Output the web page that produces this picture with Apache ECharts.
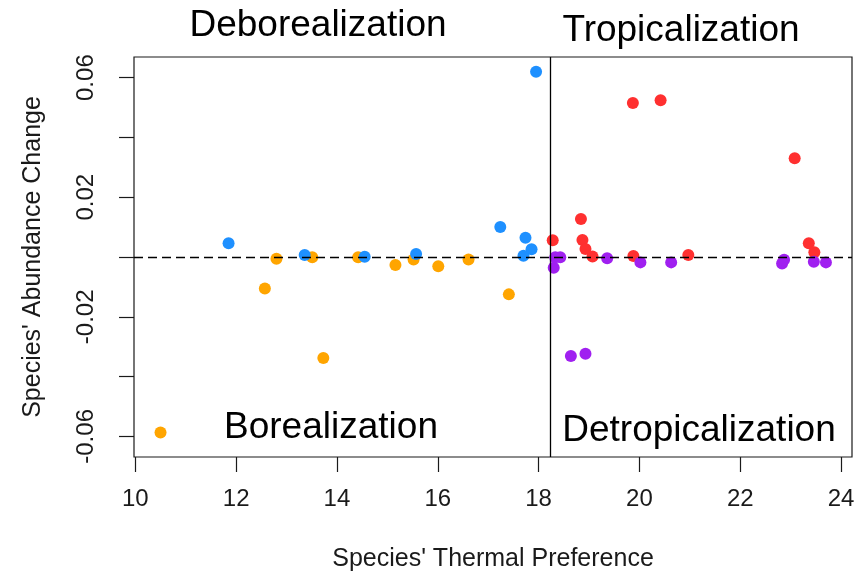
<!DOCTYPE html>
<html>
<head>
<meta charset="utf-8">
<script src="https://cdn.jsdelivr.net/npm/echarts@6/dist/echarts.min.js"></script>
<style>
  html, body { margin: 0; padding: 0; background: #ffffff; }
  #chart { width: 866px; height: 571px; }
</style>
</head>
<body>
<div id="chart"></div>
<script>
// Species' thermal preference (x) vs abundance change (y), grouped by process
const boreal_deborealX   = [11.85, 13.36, 14.55, 15.57, 17.24, 17.74, 17.86, 17.70, 17.95];
const boreal_deborealY   = [0.0046, 0.0007, 0.0001, 0.0010, 0.0100, 0.0064, 0.0026, 0.0004, 0.0620];

const boreal_borealX     = [10.50, 12.57, 12.80, 13.51, 13.73, 14.42, 15.16, 15.52, 16.01, 16.61, 17.41];
const boreal_borealY     = [-0.0587, -0.0105, -0.0006, -0.0001, -0.0338, -0.0001, -0.0027, -0.0008, -0.0031, -0.0008, -0.0125];

const tropical_tropX     = [18.28, 18.84, 18.87, 18.93, 19.07, 19.87, 19.88, 20.42, 20.97, 23.08, 23.36, 23.47];
const tropical_tropY     = [0.0056, 0.0127, 0.0057, 0.0027, 0.0002, 0.0515, 0.0003, 0.0524, 0.0007, 0.0330, 0.0046, 0.0016];

const tropical_detropX   = [18.30, 18.33, 18.43, 18.64, 18.93, 19.36, 20.02, 20.63, 22.83, 22.87, 23.46, 23.70];
const tropical_detropY   = [-0.0036, -0.0001, -0.0001, -0.0331, -0.0324, -0.0004, -0.0018, -0.0018, -0.0022, -0.0009, -0.0016, -0.0018];

// Axis ticks and labels
const xTicks = [10, 12, 14, 16, 18, 20, 22, 24];
const yTicks = [-0.06, -0.04, -0.02, 0, 0.02, 0.04, 0.06];
const yTickLabels = [-0.06, -0.02, 0.02, 0.06];

// Reference lines: thermal threshold and zero change
const thermalThreshold = 18.24;
const zeroChange = 0;

// Axis extents
const xRange = [9.974, 24.217];
const yRange = [-0.0669, 0.0669];

const pairs = (xs, ys) => xs.map((x, i) => [x, ys[i]]);

const FONT = '"Liberation Sans", Arial, sans-serif';
const INK = '#1a1a1a';

const chart = echarts.init(document.getElementById('chart'), null, { renderer: 'canvas' });

const dotSeries = (name, xs, ys, color) => ({
  name: name,
  type: 'scatter',
  data: pairs(xs, ys),
  symbol: 'circle',
  symbolSize: 12,
  itemStyle: { color: color, opacity: 1 },
  emphasis: { disabled: true },
  animation: false
});

chart.setOption({
  backgroundColor: '#ffffff',
  animation: false,
  grid: {
    left: 134, right: 14, top: 57, bottom: 114,
    outerBoundsMode: 'none',
    containLabel: false,
    show: true, borderColor: INK, borderWidth: 1.2, backgroundColor: 'transparent'
  },
  xAxis: {
    type: 'value',
    min: xRange[0], max: xRange[1],
    name: "Species' Thermal Preference",
    nameLocation: 'middle',
    nameGap: 90,
    nameTextStyle: { fontFamily: FONT, fontSize: 25, color: INK },
    axisLine: { show: false, onZero: false },
    splitLine: { show: false },
    axisTick: { show: true, length: 15, customValues: xTicks, lineStyle: { color: INK, width: 1.2 } },
    axisLabel: {
      show: true, margin: 30, customValues: xTicks,
      fontFamily: FONT, fontSize: 24, color: INK,
      formatter: v => String(v)
    }
  },
  yAxis: {
    type: 'value',
    min: yRange[0], max: yRange[1],
    name: "Species' Abundance Change",
    nameLocation: 'middle',
    nameGap: 88,
    nameTextStyle: { fontFamily: FONT, fontSize: 25, color: INK },
    axisLine: { show: false, onZero: false },
    splitLine: { show: false },
    axisTick: { show: true, length: 15, customValues: yTicks, lineStyle: { color: INK, width: 1.2 } },
    axisLabel: {
      show: true, margin: 36, rotate: 90, customValues: yTickLabels,
      fontFamily: FONT, fontSize: 24, color: INK,
      formatter: v => v.toFixed(2)
    }
  },
  series: [
    Object.assign(dotSeries('Borealization', boreal_borealX, boreal_borealY, '#FFA500'), {
      markLine: {
        silent: true, symbol: 'none', animation: false,
        label: { show: false },
        lineStyle: { color: '#000000', width: 1.3, type: [9, 5] },
        data: [{ yAxis: zeroChange }]
      }
    }),
    Object.assign(dotSeries('Deborealization', boreal_deborealX, boreal_deborealY, '#1E90FF'), {
      markLine: {
        silent: true, symbol: 'none', animation: false,
        label: { show: false },
        lineStyle: { color: '#000000', width: 1.3, type: 'solid' },
        data: [{ xAxis: thermalThreshold }]
      }
    }),
    dotSeries('Tropicalization', tropical_tropX, tropical_tropY, '#FF3030'),
    dotSeries('Detropicalization', tropical_detropX, tropical_detropY, '#A020F0')
  ],
  graphic: [
    { type: 'text', x: 318, y: 26, style: { text: 'Deborealization', font: '37px ' + FONT, fill: '#000', align: 'center', verticalAlign: 'middle' } },
    { type: 'text', x: 681, y: 31, style: { text: 'Tropicalization', font: '37px ' + FONT, fill: '#000', align: 'center', verticalAlign: 'middle' } },
    { type: 'text', x: 331, y: 428, style: { text: 'Borealization', font: '37px ' + FONT, fill: '#000', align: 'center', verticalAlign: 'middle' } },
    { type: 'text', x: 699, y: 431, style: { text: 'Detropicalization', font: '37px ' + FONT, fill: '#000', align: 'center', verticalAlign: 'middle' } }
  ]
});
</script>
</body>
</html>
